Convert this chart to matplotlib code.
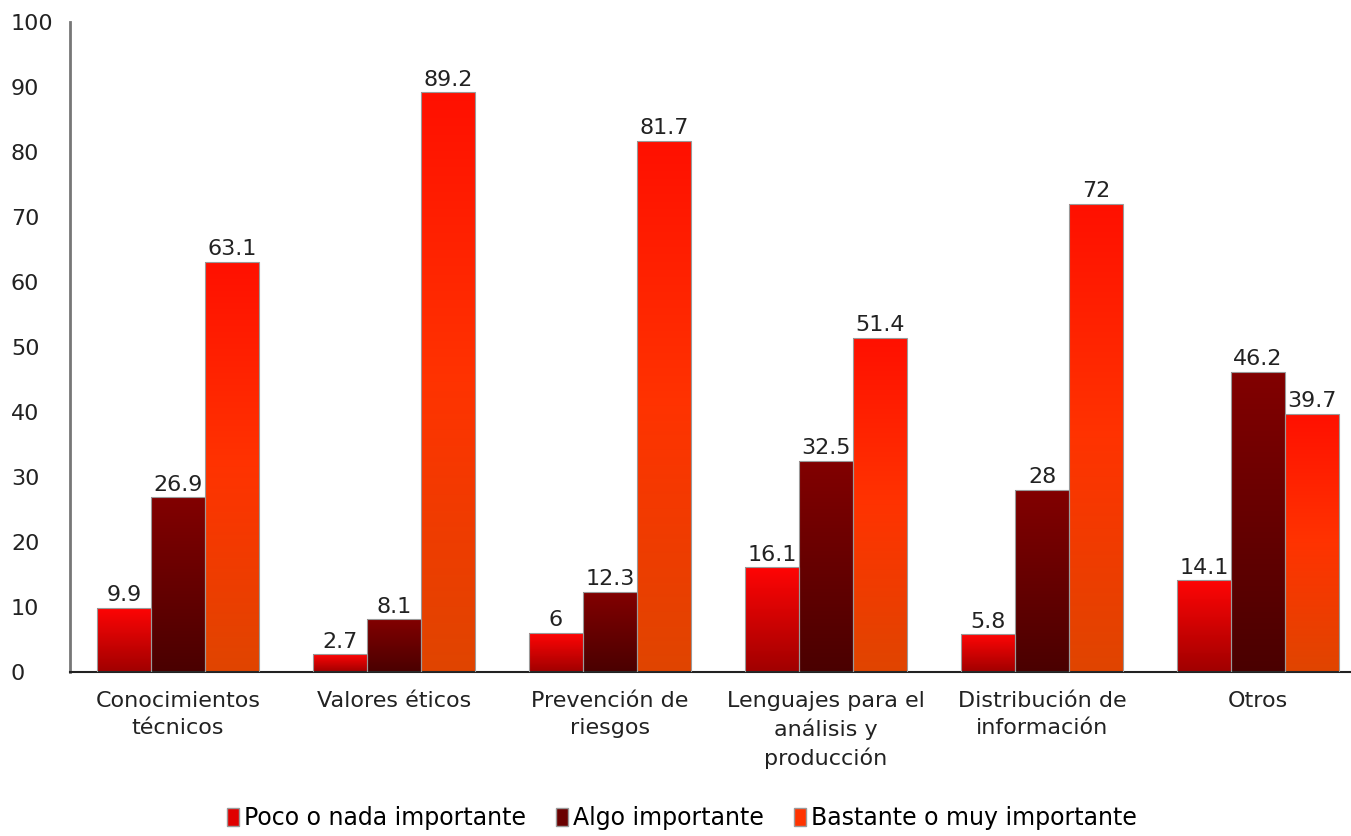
import matplotlib
matplotlib.use("Agg")
import matplotlib.pyplot as plt
import numpy as np
from matplotlib.colors import LinearSegmentedColormap
from matplotlib.patches import Patch

plt.rcParams['font.family'] = ['DejaVu Sans']

categories = ["Conocimientos\ntécnicos", "Valores éticos", "Prevención de\nriesgos",
              "Lenguajes para el\nanálisis y\nproducción", "Distribución de\ninformación", "Otros"]
series_names = ["Poco o nada importante", "Algo importante", "Bastante o muy importante"]
poco = [9.9, 2.7, 6, 16.1, 5.8, 14.1]
algo = [26.9, 8.1, 12.3, 32.5, 28, 46.2]
bastante = [63.1, 89.2, 81.7, 51.4, 72, 39.7]
labels = [["9.9", "2.7", "6", "16.1", "5.8", "14.1"],
          ["26.9", "8.1", "12.3", "32.5", "28", "46.2"],
          ["63.1", "89.2", "81.7", "51.4", "72", "39.7"]]

# gradients: (top, bottom)
grads = [["#ff0505", "#a00000"], ["#820000", "#4a0000"], ["#ff1000", "#ff3300", "#e04500"]]
solid = ["#e00000", "#6a0000", "#ff3300"]

FS = 16
W, H = 1351, 836
fig = plt.figure(figsize=(W / 100, H / 100), dpi=100)
x0, x1 = 70, 1366
y0, y1 = 672, 22
ax = fig.add_axes([x0 / W, 1 - y0 / H, (x1 - x0) / W, (y0 - y1) / H])

x = np.arange(len(categories))
bw = 0.25
for i, vals in enumerate([poco, algo, bastante]):
    bars = ax.bar(x + (i - 1) * bw, vals, width=bw, color=solid[i],
                  edgecolor="#9a9a9a", linewidth=0.8, zorder=2)
    cmap = LinearSegmentedColormap.from_list(f"g{i}", grads[i][::-1])
    for b, lab in zip(bars, labels[i]):
        bx, by = b.get_x(), b.get_y()
        bwid, bh = b.get_width(), b.get_height()
        grad = np.linspace(0, 1, 256).reshape(-1, 1)
        im = ax.imshow(grad, extent=[bx, bx + bwid, by, by + bh], origin="lower",
                       aspect="auto", cmap=cmap, zorder=2.5)
        im.set_clip_path(b)
        ax.text(bx + bwid / 2, bh + 0.4, lab, ha="center", va="bottom",
                fontsize=FS, color="#222222", zorder=4)
    for b in bars:
        b.set_facecolor("none")
        b.set_zorder(3)

ax.set_xlim(-0.5, 5.5)
ax.set_ylim(0, 100)
ax.set_yticks(np.arange(0, 101, 10))
ax.set_xticks(x)
ax.set_xticklabels(categories, fontsize=FS, color="#222222", linespacing=1.42)
ax.tick_params(axis="both", length=0, labelsize=FS, colors="#222222")
ax.tick_params(axis="y", pad=(70 - 11) * 0.72)
for t in ax.get_yticklabels():
    t.set_horizontalalignment("left")
ax.tick_params(axis="x", pad=14)
for s in ["top", "right"]:
    ax.spines[s].set_visible(False)
ax.spines["left"].set_color("#777777")
ax.spines["left"].set_linewidth(2)
ax.spines["bottom"].set_color("#222222")
ax.spines["bottom"].set_linewidth(1.5)

handles = [Patch(facecolor=solid[i], edgecolor="#9a9a9a", label=series_names[i]) for i in range(3)]
fig.legend(handles=handles, loc="center", bbox_to_anchor=(682 / W, 1 - 818 / H), ncol=3,
           frameon=False, fontsize=17, handlelength=0.5, handleheight=0.8,
           handletextpad=0.2, columnspacing=1.3)

fig.savefig("out.png", dpi=100)
